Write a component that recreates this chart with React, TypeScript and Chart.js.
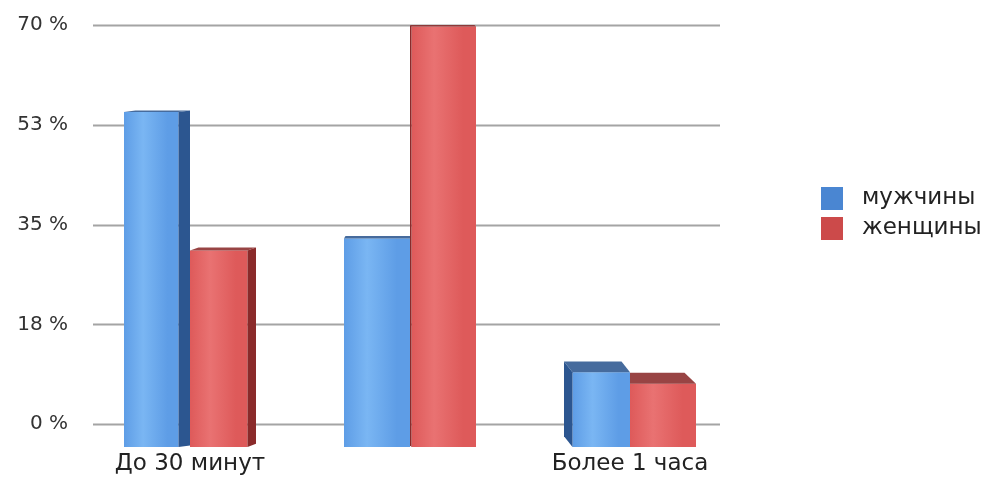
import { useEffect, useRef } from "react";
import { Chart, registerables } from "chart.js";

Chart.register(...registerables);

// Categories (the middle group has no caption)
const categories = ["До 30 минут", "", "Более 1 часа"];
const seriesNames = ["мужчины", "женщины"];
const menValues = [55, 33, 11];
const womenValues = [31, 70, 9];

// Value axis
const tickValues = [0, 17.5, 35, 52.5, 70];
const tickLabels = ["0 %", "18 %", "35 %", "53 %", "70 %"];
const axisFloor = -4;
const axisCeil = 70;

// Palette: [front face, highlight, side/shadow, legend swatch]
const bluePalette = ["#5e9de6", "#7ab6f3", "#2c5690", "#4a86d2"];
const redPalette = ["#de5a5a", "#e97272", "#8a2a2a", "#cc4a4a"];
const palettes = [bluePalette, redPalette];

const FONT = "'DejaVu Sans', Verdana, sans-serif";

const backWallGrid = {
  id: "backWallGrid",
  beforeDatasetsDraw(chart: any) {
    const { ctx, chartArea } = chart;
    const y = chart.scales.y;
    ctx.save();
    ctx.strokeStyle = "#a4a4a4";
    ctx.lineWidth = 2;
    tickValues.forEach((v) => {
      const py = Math.round(y.getPixelForValue(v)) + 0.5;
      ctx.beginPath();
      ctx.moveTo(chartArea.left + 13, py);
      ctx.lineTo(chartArea.right - 20, py);
      ctx.stroke();
    });
    ctx.restore();
  },
};

function poly(ctx: CanvasRenderingContext2D, pts: number[][], fill: any) {
  ctx.fillStyle = fill;
  ctx.beginPath();
  pts.forEach(([px, py], i) => (i ? ctx.lineTo(px, py) : ctx.moveTo(px, py)));
  ctx.closePath();
  ctx.fill();
}

// Draws every bar as a box: front face, top face and a side face
const boxBars = {
  id: "boxBars",
  afterDatasetsDraw(chart: any) {
    const { ctx, chartArea } = chart;
    const cx = (chartArea.left + chartArea.right) / 2;
    const metas = chart.data.datasets.map((_d: any, i: number) => chart.getDatasetMeta(i));
    ctx.save();
    metas.forEach((meta: any, di: number) => {
      const [face, light, dark] = palettes[di];
      meta.data.forEach((bar: any, idx: number) => {
        const x0 = bar.x - bar.width / 2;
        const x1 = bar.x + bar.width / 2;
        const top = bar.y;
        const bottom = bar.base;
        const dx = bar.x - cx;
        const s = Math.max(1.5, Math.min(12, Math.abs(dx) / 22));
        const tf = Math.max(1.5, Math.min(11, (top - 200) / 15));
        const neighbourMeta = dx < 0 ? metas[di + 1] : metas[di - 1];
        const neighbour = neighbourMeta ? neighbourMeta.data[idx] : null;
        const hidden = !!neighbour && neighbour.y < top;

        // front face extent
        let fx0 = x0;
        let fx1 = x1;
        if (!hidden) {
          if (dx < 0) fx1 = x1 - s;
          else fx0 = x0 + s;
        }
        const g = ctx.createLinearGradient(fx0, 0, fx1, 0);
        g.addColorStop(0, face);
        g.addColorStop(0.35, light);
        g.addColorStop(0.8, face);
        g.addColorStop(1, face);
        poly(ctx, [[fx0, top + tf], [fx1, top + tf], [fx1, bottom], [fx0, bottom]], g);

        // side face
        if (!hidden) {
          if (dx < 0) {
            poly(ctx, [[fx1, top + tf], [x1, top], [x1, bottom - tf], [fx1, bottom]], dark);
          } else {
            poly(ctx, [[x0, top], [fx0, top + tf], [fx0, bottom], [x0, bottom - tf]], dark);
          }
        }

        // top face
        ctx.globalAlpha = 0.88;
        if (dx < 0) {
          poly(ctx, [[fx0, top + tf], [fx1, top + tf], [hidden ? fx1 : x1, top], [fx0 + s, top]], dark);
        } else {
          poly(ctx, [[fx0, top + tf], [fx1, top + tf], [fx1 - s, top], [hidden ? fx0 : x0, top]], dark);
        }
        ctx.globalAlpha = 1;
      });
    });
    ctx.restore();
  },
};

const sideLegend = {
  id: "sideLegend",
  afterDraw(chart: any) {
    const { ctx } = chart;
    const boxX = 821;
    const boxY = 187;
    const rowGap = 30;
    ctx.save();
    chart.data.datasets.forEach((ds: any, i: number) => {
      const y = boxY + i * rowGap;
      ctx.fillStyle = palettes[i][3];
      ctx.fillRect(boxX, y, 22, 23);
      ctx.fillStyle = "#222";
      ctx.font = `23px ${FONT}`;
      ctx.textBaseline = "middle";
      ctx.textAlign = "left";
      ctx.fillText(ds.label, 862, y + 11);
    });
    ctx.restore();
  },
};

export default function App() {
  const canvasRef = useRef<HTMLCanvasElement | null>(null);

  useEffect(() => {
    if (!canvasRef.current) return;
    const chart = new Chart(canvasRef.current, {
      type: "bar",
      data: {
        labels: categories,
        datasets: [
          {
            label: seriesNames[0],
            data: menValues,
            backgroundColor: "rgba(0,0,0,0)",
            base: axisFloor,
            borderWidth: 0,
          },
          {
            label: seriesNames[1],
            data: womenValues,
            backgroundColor: "rgba(0,0,0,0)",
            base: axisFloor,
            borderWidth: 0,
          },
        ],
      },
      options: {
        responsive: false,
        animation: false,
        layout: { padding: { top: 25, right: 243, left: 0, bottom: 0 } },
        datasets: { bar: { barPercentage: 1, categoryPercentage: 0.6 } },
        plugins: {
          legend: { display: false },
          tooltip: { enabled: false },
        },
        scales: {
          x: {
            grid: { display: false, drawTicks: false },
            border: { display: false },
            ticks: {
              color: "#222",
              font: { family: FONT, size: 23 },
              padding: 3,
              maxRotation: 0,
              autoSkip: false,
            },
            afterFit(scale: any) {
              scale.height = 32;
            },
          },
          y: {
            min: axisFloor,
            max: axisCeil,
            grid: { display: false, drawTicks: false },
            border: { display: false },
            afterBuildTicks(scale: any) {
              scale.ticks = tickValues.map((value) => ({ value }));
            },
            ticks: {
              color: "#333",
              font: { family: FONT, size: 20 },
              padding: 12,
              callback: (value: any) => tickLabels[tickValues.indexOf(Number(value))],
            },
            afterFit(scale: any) {
              scale.width = 80;
            },
          },
        },
      },
      plugins: [backWallGrid, boxBars, sideLegend],
    } as any);
    return () => chart.destroy();
  }, []);

  return (
    <div style={{ position: "fixed", left: 0, top: 0, width: 983, height: 479, background: "#fff" }}>
      <canvas ref={canvasRef} width={983} height={479} style={{ display: "block" }} />
    </div>
  );
}
